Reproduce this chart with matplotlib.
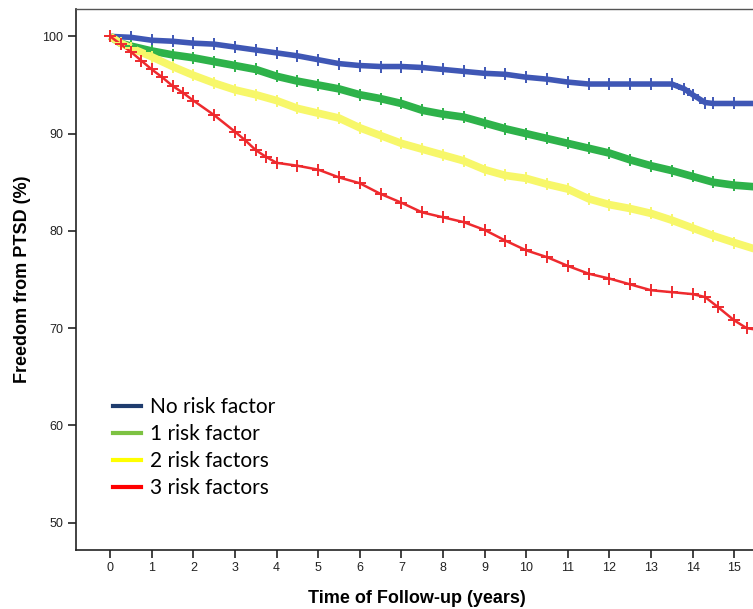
import matplotlib.pyplot as plt
from matplotlib.lines import Line2D

# Survival curves (years, % free from PTSD)
t_none = [0, 0.5, 1, 1.5, 2, 2.5, 3, 3.5, 4, 4.5, 5, 5.5, 6, 6.5, 7, 7.5, 8, 8.5,
          9, 9.5, 10, 10.5, 11, 11.5, 12, 12.5, 13, 13.5, 13.8, 14, 14.3, 14.5, 15, 15.6]
v_none = [100, 99.9, 99.6, 99.5, 99.3, 99.2, 98.9, 98.6, 98.3, 98.0, 97.6, 97.2, 97.0,
          96.9, 96.9, 96.8, 96.6, 96.4, 96.2, 96.1, 95.8, 95.6, 95.3, 95.1, 95.1, 95.1,
          95.1, 95.1, 94.6, 94.0, 93.2, 93.1, 93.1, 93.1]

t_one = [0, 0.25, 0.5, 1, 1.5, 2, 2.5, 3, 3.5, 4, 4.5, 5, 5.5, 6, 6.5, 7, 7.5, 8, 8.5,
         9, 9.5, 10, 10.5, 11, 11.5, 12, 12.5, 13, 13.5, 14, 14.5, 15, 15.6]
v_one = [100, 99.3, 99.0, 98.5, 98.1, 97.8, 97.4, 97.0, 96.6, 95.9, 95.4, 95.0, 94.6,
         94.0, 93.6, 93.1, 92.4, 92.0, 91.7, 91.1, 90.5, 90.0, 89.5, 89.0, 88.5, 88.0,
         87.3, 86.7, 86.2, 85.6, 85.0, 84.7, 84.5]

t_two = [0, 0.25, 0.5, 1, 1.5, 2, 2.5, 3, 3.5, 4, 4.5, 5, 5.5, 6, 6.5, 7, 7.5, 8, 8.5,
         9, 9.5, 10, 10.5, 11, 11.5, 12, 12.5, 13, 13.5, 14, 14.5, 15, 15.6]
v_two = [100, 99.3, 98.8, 97.9, 96.9, 96.0, 95.2, 94.5, 94.0, 93.4, 92.6, 92.1, 91.6,
         90.6, 89.8, 89.0, 88.4, 87.8, 87.2, 86.3, 85.7, 85.4, 84.8, 84.3, 83.3, 82.7,
         82.3, 81.8, 81.1, 80.3, 79.5, 78.8, 78.0]

t_three = [0, 0.25, 0.5, 0.75, 1, 1.25, 1.5, 1.75, 2, 2.5, 3, 3.25, 3.5, 3.75, 4, 4.5,
           5, 5.5, 6, 6.5, 7, 7.5, 8, 8.5, 9, 9.5, 10, 10.5, 11, 11.5, 12, 12.5, 13,
           13.5, 14, 14.3, 14.6, 15, 15.3, 15.6]
v_three = [100, 99.2, 98.4, 97.5, 96.6, 95.8, 94.9, 94.2, 93.4, 91.9, 90.2, 89.3, 88.3,
           87.6, 87.0, 86.7, 86.3, 85.5, 84.9, 83.8, 82.9, 81.9, 81.4, 80.9, 80.1, 79.0,
           78.0, 77.3, 76.4, 75.6, 75.1, 74.5, 73.9, 73.7, 73.5, 73.2, 72.2, 70.8, 70.0, 69.8]

labels = ["No risk factor", "1 risk factor", "2 risk factors", "3 risk factors"]
x_ticks = list(range(0, 16))
y_ticks = [50, 60, 70, 80, 90, 100]

fig = plt.figure(figsize=(7.53, 6.09), dpi=100)
ax = fig.add_axes([0.101, 0.097, 0.905, 0.888])

# thick bands + censor crosses, as in the SPSS output
curves = [
    (t_none, v_none, "#3f57b5", 4.0),
    (t_one, v_one, "#2eb24a", 5.5),
    (t_two, v_two, "#f7f76a", 5.5),
    (t_three, v_three, "#ee2a2e", 1.8),
]
for t, v, col, lw in curves:
    ax.plot(t, v, color=col, lw=lw, solid_capstyle="butt", zorder=2)
    ax.plot(t, v, ls="none", marker="+", ms=8, mew=1.4, color=col, zorder=3)

ax.set_xlim(-0.82, 15.56)
ax.set_ylim(47.2, 102.8)
ax.set_xticks(x_ticks)
ax.set_yticks(y_ticks)

for s in ["left", "bottom"]:
    ax.spines[s].set_color("#222222")
    ax.spines[s].set_linewidth(1.2)
ax.spines["top"].set_color("#555555")
ax.spines["top"].set_linewidth(1.0)
ax.spines["right"].set_visible(False)

ax.tick_params(direction="out", length=6, width=1.2, color="#222222", pad=3,
               labelsize=9, labelcolor="#222222")
for lab in ax.get_xticklabels() + ax.get_yticklabels():
    lab.set_family("Liberation Sans")

ax.set_xlabel("Time of Follow-up (years)", fontsize=13, fontweight="bold",
              family="Liberation Sans", labelpad=11)
ax.set_ylabel("Freedom from PTSD (%)", fontsize=13, fontweight="bold",
              family="Liberation Sans", labelpad=8.5)

leg_cols = ["#1f3c6e", "#7dc242", "#ffff00", "#ff0000"]
handles = [Line2D([0], [0], color=c, lw=3) for c in leg_cols]
ax.legend(handles, labels, loc="upper left", bbox_to_anchor=(0.150, 0.348),
          bbox_transform=fig.transFigure, frameon=False,
          prop={"family": "Lato", "size": 15}, handlelength=1.35,
          handletextpad=0.43, labelspacing=0.34, borderpad=0, borderaxespad=0)

fig.savefig("out.png", dpi=100)
